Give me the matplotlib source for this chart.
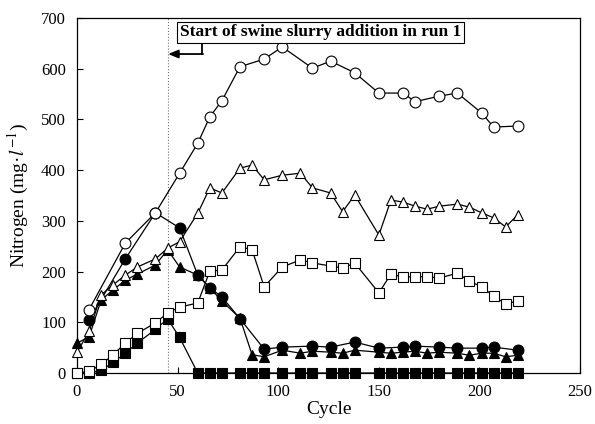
import matplotlib
matplotlib.use("Agg")
import matplotlib.pyplot as plt

plt.rcParams["font.family"] = ["Liberation Serif", "DejaVu Serif"]
plt.rcParams["mathtext.fontset"] = "stix"

# ── Data ─────────────────────────────────────────────────────────────────────

cyc_circle = [6, 24, 39, 51, 60, 66, 72, 81, 93, 102, 117, 126, 138, 150,
              162, 168, 180, 189, 201, 207, 219]
open_circle = [125, 256, 316, 394, 453, 505, 537, 604, 619, 643, 601, 615,
               592, 552, 552, 535, 546, 552, 513, 485, 487]
filled_circle = [105, 225, 316, 286, 193, 168, 150, 107, 47, 51, 53, 51,
                 61, 49, 51, 53, 51, 49, 49, 51, 45]

cyc_full = [0, 6, 12, 18, 24, 30, 39, 45, 51, 60, 66, 72, 81, 87, 93, 102,
            111, 117, 126, 132, 138, 150, 156, 162, 168, 174, 180, 189, 195,
            201, 207, 213, 219]
open_triangle = [41, 82, 154, 174, 193, 209, 225, 246, 259, 315, 365, 355,
                 404, 410, 381, 390, 394, 365, 355, 318, 351, 272, 341, 337,
                 329, 323, 329, 333, 327, 316, 306, 288, 312]
filled_triangle = [59, 71, 144, 164, 183, 195, 213, 243, 209, 193, 168, 142,
                   108, 36, 32, 45, 39, 43, 41, 39, 45, 41, 39, 41, 43, 39,
                   41, 39, 35, 39, 39, 32, 35]
open_square = [0, 3, 17, 36, 59, 78, 99, 118, 130, 138, 201, 203, 249, 243,
               170, 209, 223, 217, 211, 207, 217, 158, 195, 189, 190, 190,
               187, 197, 181, 170, 152, 136, 142]
filled_square = [0, 0, 5, 21, 39, 59, 86, 107, 70, 0, 0, 0, 0, 0, 0, 0, 0,
                 0, 0, 0, 0, 0, 0, 0, 0, 0, 0, 0, 0, 0, 0, 0, 0]

SLURRY_START = 45
NOTE = "Start of swine slurry addition in run 1"

# ── Plot ─────────────────────────────────────────────────────────────────────

fig = plt.figure(figsize=(5.95, 4.24), dpi=100)
ax = fig.add_axes([0.1294, 0.1203, 0.8456, 0.8372])

ax.axvline(SLURRY_START, color="0.45", ls=":", lw=0.8, zorder=1)

style = dict(color="black", lw=0.9, mew=0.8, clip_on=False)
ax.plot(cyc_full, filled_square, marker="s", ms=6.8, mfc="black", zorder=3, **style)
ax.plot(cyc_full, filled_triangle, marker="^", ms=7.3, mfc="black", zorder=3, **style)
ax.plot(cyc_circle, filled_circle, marker="o", ms=7.8, mfc="black", zorder=3, **style)
ax.plot(cyc_full, open_square, marker="s", ms=6.8, mfc="white", zorder=4, **style)
ax.plot(cyc_full, open_triangle, marker="^", ms=7.3, mfc="white", zorder=4, **style)
ax.plot(cyc_circle, open_circle, marker="o", ms=7.8, mfc="white", zorder=4, **style)

# annotation box + elbow arrow
ax.text(121, 672, NOTE, ha="center", va="center", fontsize=12.5,
        fontweight="bold", zorder=6,
        bbox=dict(boxstyle="square,pad=0.15", fc="white", ec="black", lw=0.8))
ax.plot([62, 62], [652, 629], color="black", lw=1.3, zorder=5)
ax.annotate("", xy=(45.3, 629), xytext=(62.6, 629),
            arrowprops=dict(arrowstyle="-|>,head_length=0.6,head_width=0.25",
                            color="black", lw=1.3, shrinkA=0, shrinkB=0),
            zorder=5)

ax.set_xlim(0, 250)
ax.set_ylim(0, 700)
ax.set_xticks(range(0, 251, 50))
ax.set_yticks(range(0, 701, 100))
ax.tick_params(direction="in", length=4, width=0.8, labelsize=12, pad=8)
for s in ax.spines.values():
    s.set_linewidth(0.9)

ax.set_xlabel("Cycle", fontsize=14, labelpad=1)
ax.set_ylabel("Nitrogen (mg·$\\mathit{l}^{-1}$)", fontsize=14, labelpad=7)

fig.savefig("out.png", dpi=100)
